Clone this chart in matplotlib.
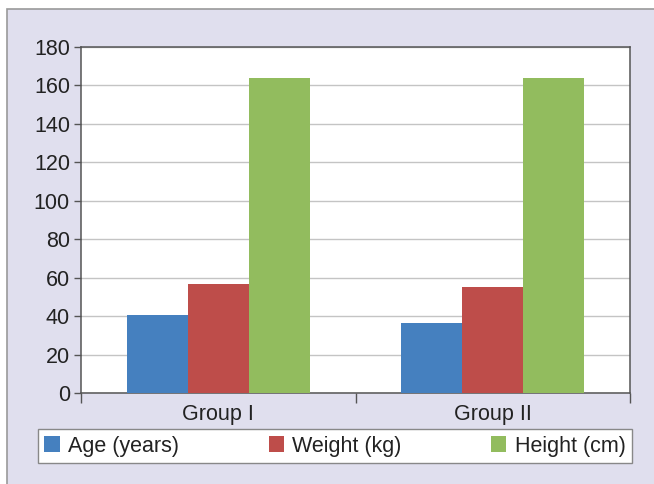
import numpy as np
import matplotlib.pyplot as plt
from matplotlib.patches import Rectangle

plt.rcParams['font.family'] = ['Liberation Sans', 'DejaVu Sans']

# data
groups = ['Group I', 'Group II']
series = ['Age (years)', 'Weight (kg)', 'Height (cm)']
age = [40.5, 36.5]
weight = [56.5, 55]
height = [164, 164]
colors = ['#4580BF', '#BE4D4A', '#92BC5E']

W, H = 654, 484
fig = plt.figure(figsize=(W / 100, H / 100), dpi=100)
fig.patch.set_facecolor('white')

# lavender panel with grey border
fig.patches.append(Rectangle((7 / W, -0.1), 1.1, (H - 9) / H + 0.1,
                             transform=fig.transFigure, facecolor='#E0DFEE',
                             edgecolor='#9A9A9A', linewidth=1.2, zorder=-5))

ax = fig.add_axes([81 / W, (H - 393) / H, (630 - 81) / W, (393 - 47) / H])
ax.set_zorder(2)
ax.set_facecolor('white')

x = np.arange(len(groups))
bw = 0.222
for i, (vals, lab) in enumerate(zip([age, weight, height], series)):
    ax.bar(x + (i - 1) * bw, vals, bw, color=colors[i], label=lab, zorder=3)

ax.set_xlim(-0.5, 1.5)
ax.set_ylim(0, 180)
ax.set_yticks(range(0, 181, 20))
ax.yaxis.grid(True, color='#C4C4C4', linewidth=1.0, zorder=0)
ax.set_axisbelow(True)

ax.set_xticks(x)
ax.set_xticklabels(groups)
ax.tick_params(axis='x', length=0, pad=8, labelsize=15.5, colors='#222222')
ax.set_xticks([-0.5, 0.5, 1.5], minor=True)
ax.tick_params(axis='x', which='minor', length=7, width=1, color='#555555', direction='out')
ax.tick_params(axis='y', length=5, width=1, color='#555555', labelsize=15.5,
               labelcolor='#222222', pad=3)

for s in ['left', 'bottom', 'right', 'top']:
    ax.spines[s].set_color('#555555')
    ax.spines[s].set_linewidth(1.1)

leg = fig.legend(loc='lower left', ncol=3, mode='expand',
                 bbox_to_anchor=(38 / W, (H - 463) / H, (632 - 38) / W, 33 / H),
                 frameon=True, fancybox=False, fontsize=15.5, framealpha=1,
                 handlelength=0.7, handleheight=0.7, handletextpad=0.4,
                 borderaxespad=0, borderpad=0.3)
leg.set_zorder(3)
leg.get_frame().set_edgecolor('#888888')
leg.get_frame().set_linewidth(1.0)
leg.get_frame().set_facecolor('white')
for t in leg.get_texts():
    t.set_color('#222222')

fig.savefig('out.png', dpi=100)
